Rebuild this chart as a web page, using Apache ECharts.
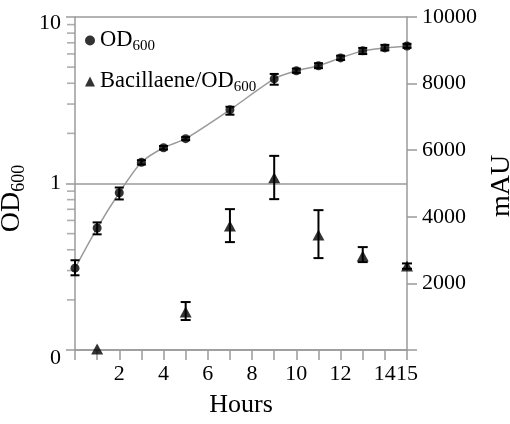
<!DOCTYPE html>
<html>
<head>
<meta charset="utf-8">
<script src="https://cdn.jsdelivr.net/npm/echarts@6/dist/echarts.min.js"></script>
<style>
  html, body { margin: 0; padding: 0; background: #fff; }
  #main { width: 510px; height: 424px; }
</style>
</head>
<body>
<div id="main"></div>
<script>
// OD600 growth curve (left, log axis)
var hours = [0, 1, 2, 3, 4, 5, 7, 9, 10, 11, 12, 13, 14, 15];
var od = [0.31, 0.54, 0.88, 1.34, 1.64, 1.86, 2.77, 4.25, 4.75, 5.09, 5.68, 6.26, 6.52, 6.70];
var odLow = [0.281, 0.495, 0.802, 1.30, 1.60, 1.82, 2.59, 3.92, 4.62, 4.93, 5.52, 5.99, 6.30, 6.52];
var odHigh = [0.346, 0.584, 0.946, 1.38, 1.68, 1.90, 2.89, 4.55, 4.90, 5.28, 5.86, 6.52, 6.80, 6.90];

// Bacillaene/OD600 (right axis, mAU)
var bacHours = [1, 5, 7, 9, 11, 13, 15];
var bac = [30, 1140, 3720, 5170, 3450, 2820, 2520];
var bacLow = [30, 900, 3240, 4530, 2760, 2640, 2440];
var bacHigh = [30, 1440, 4230, 5830, 4200, 3090, 2600];

// minor ticks of the log axis
var minorTicks = [0.2, 0.3, 0.4, 0.5, 0.6, 0.7, 0.8, 0.9, 2, 3, 4, 5, 6, 7, 8, 9];
var evenLabels = [2, 4, 6, 8, 10, 12, 14, 15];

var gray = '#9a9a9a';
var font = 'Liberation Serif';

var chart = echarts.init(document.getElementById('main'));

var errorBar = function (cap) {
    return function (params, api) {
        var x = api.value(0), lo = api.value(1), hi = api.value(2);
        if (hi - lo <= 0) return null;
        var a = api.coord([x, lo]), b = api.coord([x, hi]);
        var st = { stroke: '#000', lineWidth: 2 };
        return {
            type: 'group',
            children: [
                { type: 'line', shape: { x1: a[0], y1: a[1], x2: b[0], y2: b[1] }, style: st },
                { type: 'line', shape: { x1: a[0] - cap, y1: a[1], x2: a[0] + cap, y2: a[1] }, style: st },
                { type: 'line', shape: { x1: b[0] - cap, y1: b[1], x2: b[0] + cap, y2: b[1] }, style: st }
            ]
        };
    };
};

var subRich = function (big, small, lh) {
    return {
        a: { fontFamily: font, fontSize: big, lineHeight: lh, color: '#000' },
        b: { fontFamily: font, fontSize: small, lineHeight: 11, verticalAlign: 'bottom', color: '#000' }
    };
};

var option = {
    animation: false,
    grid: { left: 75, right: 103, top: 17, bottom: 74, outerBoundsMode: 'none' },
    legend: {
        left: 80,
        top: 24,
        orient: 'vertical',
        itemWidth: 10,
        itemHeight: 10,
        itemGap: 16,
        selectedMode: false,
        data: [
            { name: 'OD600', icon: 'circle' },
            { name: 'Bacillaene/OD600', icon: 'triangle' }
        ],
        formatter: function (name) {
            return name === 'OD600' ? '{a|OD}{b|600}' : '{a|Bacillaene/OD}{b|600}';
        },
        textStyle: { fontFamily: font, fontSize: 22, color: '#000', rich: subRich(22.5, 15, 27) }
    },
    xAxis: {
        type: 'value',
        min: 0,
        max: 15,
        interval: 1,
        name: 'Hours',
        nameLocation: 'middle',
        nameGap: 42,
        nameTextStyle: { fontFamily: font, fontSize: 26, color: '#000' },
        axisLine: { show: true, onZero: false, lineStyle: { color: gray, width: 1.5 } },
        axisTick: { show: true, length: 10, lineStyle: { color: gray, width: 1.5 } },
        axisLabel: {
            margin: 13,
            fontFamily: font,
            fontSize: 22,
            color: '#000',
            formatter: function (v) { return evenLabels.indexOf(v) >= 0 ? String(v) : ''; }
        },
        splitLine: { show: false }
    },
    yAxis: [
        {
            type: 'log',
            logBase: 10,
            min: 0.1,
            max: 10,
            name: '{a|OD}{b|600}',
            nameLocation: 'middle',
            nameRotate: 90,
            nameGap: 25,
            nameTextStyle: { padding: [0, 30, 0, 0], rich: subRich(28, 18, 32) },
            axisLine: { show: true, lineStyle: { color: gray, width: 1.5 } },
            axisTick: { show: true, length: 9, lineStyle: { color: gray, width: 1.5 } },
            axisLabel: {
                margin: 14,
                fontFamily: font,
                fontSize: 22,
                color: '#000',
                formatter: function (v) {
                    if (v < 0.5) return '{low|0}';
                    if (v > 5) return '{top|10}';
                    return String(Math.round(v));
                },
                rich: {
                    low: { fontFamily: font, fontSize: 22, color: '#000', padding: [17, 0, 0, 0] },
                    top: { fontFamily: font, fontSize: 22, color: '#000', padding: [12, 0, 0, 0] }
                }
            },
            splitLine: { show: true, lineStyle: { color: gray, width: 1.5 } }
        },
        {
            type: 'value',
            position: 'right',
            min: 0,
            max: 10000,
            interval: 2000,
            name: 'mAU',
            nameLocation: 'middle',
            nameRotate: 90,
            nameGap: 71,
            nameTextStyle: { fontFamily: font, fontSize: 28, color: '#000', padding: [0, 5, 0, 0] },
            axisLine: { show: true, lineStyle: { color: gray, width: 1.5 } },
            axisTick: { show: true, length: 10, lineStyle: { color: gray, width: 1.5 } },
            axisLabel: {
                margin: 15,
                fontFamily: font,
                fontSize: 22,
                color: '#000',
                formatter: function (v) { return v === 0 ? '' : String(v); }
            },
            splitLine: { show: false }
        }
    ],
    series: [
        {
            name: 'minor ticks',
            type: 'scatter',
            silent: true,
            clip: false,
            yAxisIndex: 0,
            symbol: 'rect',
            symbolSize: [8, 1.6],
            symbolOffset: [-4, 0],
            itemStyle: { color: gray },
            data: minorTicks.map(function (v) { return [0, v]; }),
            z: 1
        },
        {
            name: 'OD600 curve',
            type: 'line',
            yAxisIndex: 0,
            smooth: 0.25,
            symbol: 'none',
            silent: true,
            lineStyle: { color: gray, width: 1.5 },
            data: hours.map(function (h, i) { return [h, od[i]]; }),
            z: 2
        },
        {
            name: 'OD600 err',
            type: 'custom',
            yAxisIndex: 0,
            silent: true,
            clip: false,
            data: hours.map(function (h, i) { return [h, odLow[i], odHigh[i]]; }),
            renderItem: errorBar(4.5),
            z: 3
        },
        {
            name: 'OD600',
            type: 'scatter',
            yAxisIndex: 0,
            symbol: 'circle',
            symbolSize: 9,
            itemStyle: { color: '#000' },
            data: hours.map(function (h, i) { return [h, od[i]]; }),
            z: 4
        },
        {
            name: 'Bacillaene err',
            type: 'custom',
            yAxisIndex: 1,
            silent: true,
            clip: false,
            data: bacHours.map(function (h, i) { return [h, bacLow[i], bacHigh[i]]; }),
            renderItem: errorBar(5),
            z: 3
        },
        {
            name: 'Bacillaene/OD600',
            type: 'scatter',
            yAxisIndex: 1,
            symbol: 'triangle',
            symbolSize: [12, 11],
            itemStyle: { color: '#000' },
            data: bacHours.map(function (h, i) { return [h, bac[i]]; }),
            z: 4
        }
    ]
};

chart.setOption(option);
</script>
</body>
</html>
